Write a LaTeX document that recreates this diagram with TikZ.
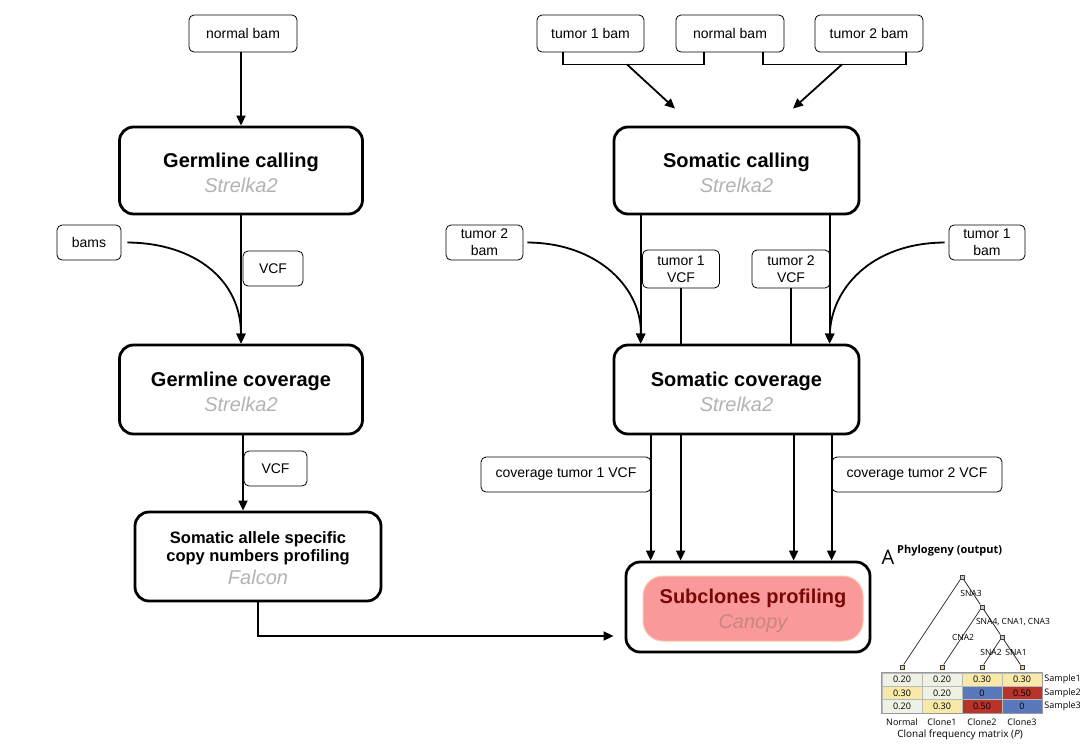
\documentclass[tikz,border=0pt]{standalone}
\usepackage{fontspec}
\setmainfont{Liberation Sans}
\newfontfamily\phyfont{Open Sans}
\usetikzlibrary{arrows.meta,calc}
\definecolor{toolgray}{HTML}{B3B3B3}
\definecolor{pinkfill}{HTML}{FA9999}
\definecolor{pinkedge}{HTML}{F9C9A6}
\definecolor{titlemaroon}{HTML}{780808}
\definecolor{canopygray}{HTML}{C98585}
\definecolor{cLight}{HTML}{EEF2E4}
\definecolor{cYel}{HTML}{F8E9A8}
\definecolor{cBlue}{HTML}{5A78BC}
\definecolor{cRed}{HTML}{B8332A}
\definecolor{leafy}{HTML}{E6D66A}
\newcommand{\tstrut}{\rule{0pt}{18.6pt}}
\begin{document}
\begin{tikzpicture}[x=1pt,y=-1pt,
  mainbox/.style={draw, line width=2.8pt, rounded corners=14pt, align=center, inner sep=0pt,
    font=\fontsize{20}{24}\selectfont},
  lblbox/.style={draw, line width=0.8pt, rounded corners=5pt, align=center, inner sep=0pt,
    font=\fontsize{14}{17}\selectfont},
  arr/.style={line width=1.8pt, -{Triangle[length=10pt,width=9pt]}},
  conn/.style={line width=1.8pt},
  tnode/.style={draw=black!75, line width=0.5pt, fill=gray!45, minimum size=4.5pt, inner sep=0pt},
  leaf/.style={tnode, fill=leafy},
  tedge/.style={line width=0.7pt, black!85},
  tlab/.style={font=\phyfont\fontsize{8.5}{9}\selectfont, inner sep=0pt},
  cell/.style={draw=gray!55, line width=0.5pt, minimum width=40pt, minimum height=13.3pt, inner sep=0pt,
    font=\phyfont\fontsize{9}{10}\selectfont},
  small/.style={font=\phyfont\fontsize{9}{10}\selectfont, inner sep=0pt}
]
\useasboundingbox[fill=white] (0,0) rectangle (1080,750);

% ---------- left column ----------
\node[lblbox, minimum width=108pt, minimum height=37pt] (nb1) at (243,33.5) {normal bam};
\node[mainbox, minimum width=243pt, minimum height=87pt] (gcall) at (241,170.5)
  {\tstrut{\bfseries Germline calling}\\[1pt]{\itshape\color{toolgray}Strelka2}};
\node[lblbox, minimum width=64pt, minimum height=35pt] (bams) at (89,242.5) {bams};
\node[lblbox, minimum width=60pt, minimum height=35pt] (vcf1) at (273,268.5) {VCF};
\node[mainbox, minimum width=243pt, minimum height=89pt] (gcov) at (241,389.5)
  {\tstrut{\bfseries Germline coverage}\\[1pt]{\itshape\color{toolgray}Strelka2}};
\node[lblbox, minimum width=63pt, minimum height=35pt] (vcf2) at (275.5,468.5) {VCF};
\node[mainbox, minimum width=246pt, minimum height=89pt, font=\fontsize{16.5}{18}\selectfont] (falcon) at (258,556.5)
  {\rule{0pt}{16pt}\textbf{Somatic allele specific}\\\textbf{copy numbers profiling}\\[5pt]{\fontsize{20}{20}\selectfont\itshape\color{toolgray}Falcon}};

\coordinate (nbout) at ($(nb1.south)+(-2,0)$);
\draw[arr] (nbout) -- (nbout |- gcall.north);
\draw[arr] (gcall.south) -- (gcov.north);
\coordinate (bamsout) at ($(bams.east)+(6,0)$);
\draw[arr] (bamsout) .. controls (195,243) and (241,280) .. (gcov.north);
\coordinate (gcovout) at ($(gcov.south)+(2,0)$);
\draw[arr] (gcovout) -- (gcovout |- falcon.north);

% ---------- right column ----------
\node[lblbox, minimum width=107pt, minimum height=37pt] (t1b) at (590.5,33.5) {tumor 1 bam};
\node[lblbox, minimum width=108pt, minimum height=37pt] (nb2) at (730,33.5) {normal bam};
\node[lblbox, minimum width=108pt, minimum height=37pt] (t2b) at (869,33.5) {tumor 2 bam};
\node[mainbox, minimum width=245pt, minimum height=87pt] (scall) at (736.5,170.5)
  {\tstrut{\bfseries Somatic calling}\\[1pt]{\itshape\color{toolgray}Strelka2}};
\node[lblbox, minimum width=77pt, minimum height=35pt] (tbl) at (484.5,242.5) {tumor 2\\bam};
\node[lblbox, minimum width=77pt, minimum height=38pt] (t1vcf) at (681,269) {tumor 1\\VCF};
\node[lblbox, minimum width=78pt, minimum height=38pt] (t2vcf) at (791,269) {tumor 2\\VCF};
\node[lblbox, minimum width=76pt, minimum height=35pt] (tbr) at (987,242.5) {tumor 1\\bam};
\node[mainbox, minimum width=245pt, minimum height=89pt] (scov) at (736.5,389.5)
  {\tstrut{\bfseries Somatic coverage}\\[1pt]{\itshape\color{toolgray}Strelka2}};
\node[lblbox, minimum width=170pt, minimum height=35pt] (cov1) at (566,474.5) {coverage tumor 1 VCF};
\node[lblbox, minimum width=170pt, minimum height=35pt] (cov2) at (917,474.5) {coverage tumor 2 VCF};
\node[mainbox, minimum width=244pt, minimum height=90pt] (sub) at (748,607) {};
\node[draw=pinkedge, line width=1pt, fill=pinkfill, rounded corners=20pt, minimum width=220pt,
  minimum height=65pt, align=center, inner sep=0pt, font=\fontsize{20}{24}\selectfont] (subin) at (753,608.5)
  {\tstrut{\bfseries\color{titlemaroon}Subclones profiling}\\[1pt]{\itshape\color{canopygray}Canopy}};

% brackets and top arrows
\draw[line width=1.5pt] ($(t1b.south)+(-27.5,0)$) -- ++(0,12) -| ($(nb2.south)+(-26,0)$);
\draw[line width=1.5pt] ($(nb2.south)+(33,0)$) -- ++(0,12) -| ($(t2b.south)+(37,0)$);
\coordinate (b1) at ($(t1b.south)+(36.5,12)$);
\coordinate (s1) at ($(scall.north)+(-61.5,-17)$);
\coordinate (b2) at ($(t2b.south)+(-27,12)$);
\coordinate (s2) at ($(scall.north)+(56.5,-17)$);
\draw[arr] (b1) -- (s1);
\draw[arr] (b2) -- (s2);

% somatic calling -> coverage
\coordinate (sc1) at ($(scall.south west)+(28,0)$);
\coordinate (sc2) at ($(scall.south west)+(217,0)$);
\draw[arr] (sc1) -- (sc1 |- scov.north);
\draw[arr] (sc2) -- (sc2 |- scov.north);
\draw[conn] (t1vcf.south) -- (t1vcf.south |- scov.north);
\draw[conn] (t2vcf.south) -- (t2vcf.south |- scov.north);
\coordinate (tblout) at ($(tbl.east)+(4,0)$);
\coordinate (tbrout) at ($(tbr.west)+(-4,0)$);
\draw[arr] (tblout) .. controls (600,243) and (642,290) .. (sc1 |- scov.north);
\draw[arr] (tbrout) .. controls (870,243) and (831,290) .. (sc2 |- scov.north);

% coverage -> subclones
\foreach \dx/\nm in {38/d1,68/d2,181/d3,219/d4}{
  \coordinate (\nm) at ($(scov.south west)+(\dx,0)$);
  \draw[arr] (\nm) -- (\nm |- sub.north);
}

% falcon -> subclones
\coordinate (fend) at ($(sub.west)+(-11,29)$);
\draw[line width=1.5pt, -{Triangle[length=10pt,width=9pt]}] (falcon.south) |- (fend);

% ---------- phylogeny figure ----------
\node[font=\phyfont\fontsize{20}{20}\selectfont, inner sep=0pt] (figA) at (888,557) {A};
\node[font=\phyfont\bfseries\fontsize{11}{12}\selectfont, inner sep=0pt, anchor=west] (phytitle) at (897,551) {Phylogeny (output)};
\node[tnode] (R) at (962,577) {};
\node[tnode] (N2) at (982,607) {};
\node[tnode] (N3) at (1002,637) {};
\node[leaf] (L1) at (902,667) {};
\node[leaf] (L2) at (942,667) {};
\node[leaf] (L3) at (982,667) {};
\node[leaf] (L4) at (1022,667) {};
\draw[tedge] (R) -- (L1);
\draw[tedge] (R) -- (N2);
\draw[tedge] (N2) -- (L2);
\draw[tedge] (N2) -- (N3);
\draw[tedge] (N3) -- (L3);
\draw[tedge] (N3) -- (L4);
\node[tlab] (lSNA3) at (971,593) {SNA3};
\node[tlab] (lSNA4) at (1013,622) {SNA4, CNA1, CNA3};
\node[tlab] (lCNA2) at (963,637) {CNA2};
\node[tlab] (lSNA2) at (991,652) {SNA2};
\node[tlab] (lSNA1) at (1016,652) {SNA1};

\foreach \col/\row/\val/\clr in {1/1/0.20/cLight, 2/1/0.20/cLight, 3/1/0.30/cYel, 4/1/0.30/cYel,
  1/2/0.30/cYel, 2/2/0.20/cLight, 3/2/0/cBlue, 4/2/0.50/cRed,
  1/3/0.20/cLight, 2/3/0.30/cYel, 3/3/0.50/cRed, 4/3/0/cBlue}{
  \node[cell, fill=\clr] (c\row\col) at ({862+40*\col},{666.35+13.3*\row}) {\val};
}
\draw[gray!80, line width=0.8pt] (c11.north west) rectangle (c34.south east);
\node[small, anchor=west] (s1lab) at ($(c14.east)+(2,0)$) {Sample1};
\node[small, anchor=west] (s2lab) at ($(c24.east)+(2,0)$) {Sample2};
\node[small, anchor=west] (s3lab) at ($(c34.east)+(2,0)$) {Sample3};
\node[small] (k1) at (902,722) {Normal};
\node[small] (k2) at (942,722) {Clone1};
\node[small] (k3) at (982,722) {Clone2};
\node[small] (k4) at (1022,722) {Clone3};
\node[font=\phyfont\fontsize{10}{12}\selectfont, inner sep=0pt] (caption) at (960,735) {Clonal frequency matrix (\textit{P})};
\end{tikzpicture}
\end{document}
